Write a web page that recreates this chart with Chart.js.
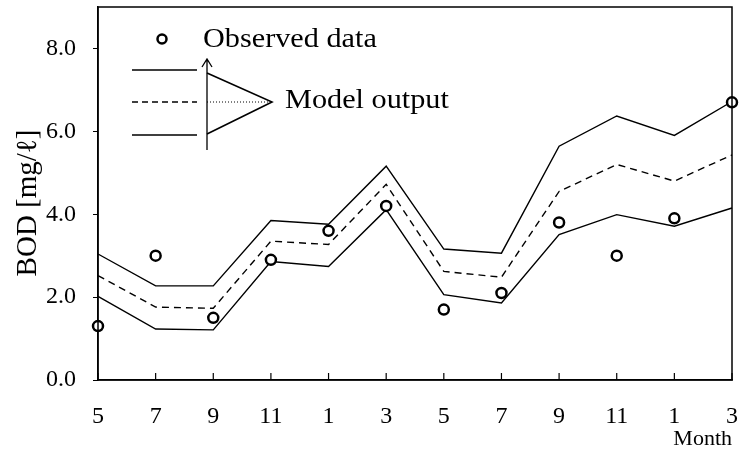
<!DOCTYPE html>
<html>
<head>
<meta charset="utf-8">
<script src="https://cdn.jsdelivr.net/npm/chart.js@4.4.1/dist/chart.umd.min.js"></script>
<style>
  html, body { margin: 0; padding: 0; background: #fff; }
  #wrap { width: 739px; height: 452px; }
</style>
</head>
<body>
<div id="wrap"><canvas id="bod"></canvas></div>
<script>
// BOD observed vs model output
var months = ["5", "7", "9", "11", "1", "3", "5", "7", "9", "11", "1", "3"];
var observed = [1.3, 3.0, 1.5, 2.9, 3.6, 4.2, 1.7, 2.1, 3.8, 3.0, 3.9, 6.7];
var modelUpper = [3.04, 2.27, 2.27, 3.85, 3.76, 5.16, 3.16, 3.06, 5.64, 6.37, 5.9, 6.72];
var modelMean = [2.52, 1.76, 1.73, 3.35, 3.27, 4.72, 2.62, 2.48, 4.55, 5.2, 4.8, 5.43];
var modelLower = [2.02, 1.23, 1.21, 2.86, 2.74, 4.11, 2.06, 1.86, 3.51, 3.99, 3.71, 4.15];
var yTicks = [0, 2, 4, 6, 8];

var serif = "'Liberation Serif', 'DejaVu Serif', serif";

function wideText(c, txt, x, y) {
    c.save();
    c.translate(x, y);
    c.scale(1.12, 1);
    c.fillText(txt, 0, 0);
    c.restore();
}

// frame, inward x ticks, y title and the hand drawn legend
var decor = {
    id: 'decor',
    afterDraw: function (chart) {
        var c = chart.ctx;
        var a = chart.chartArea;
        var x = chart.scales.x;
        c.save();
        c.strokeStyle = '#000';
        c.lineWidth = 1.5;
        c.strokeRect(a.left, a.top, a.right - a.left, a.bottom - a.top);

        c.lineWidth = 1.2;
        for (var i = 0; i < months.length; i++) {
            var px = x.getPixelForTick(i);
            c.beginPath();
            c.moveTo(px, a.bottom);
            c.lineTo(px, a.bottom - 7);
            c.stroke();
        }

        // y axis title (sits a bit below the middle in the original)
        c.fillStyle = '#000';
        c.save();
        c.translate(28, 203);
        c.rotate(-Math.PI / 2);
        c.font = '29px ' + serif;
        c.textAlign = 'center';
        c.textBaseline = 'middle';
        c.fillText('BOD [mg/\u2113]', 0, 0);
        c.restore();

        // legend
        c.fillStyle = '#fff';
        c.lineWidth = 2.5;
        c.beginPath();
        c.arc(162, 39, 4.5, 0, Math.PI * 2);
        c.fill();
        c.stroke();

        c.fillStyle = '#000';
        c.font = '27px ' + serif;
        c.textBaseline = 'middle';
        c.textAlign = 'left';
        wideText(c, 'Observed data', 203, 40);
        wideText(c, 'Model output', 285, 101);

        c.lineWidth = 1.3;
        c.beginPath();
        c.moveTo(132, 70); c.lineTo(197, 70);
        c.moveTo(132, 135); c.lineTo(197, 135);
        c.stroke();
        c.setLineDash([6, 4]);
        c.beginPath();
        c.moveTo(132, 102); c.lineTo(197, 102);
        c.stroke();
        c.setLineDash([]);

        // arrow + bracket
        c.beginPath();
        c.moveTo(207, 150); c.lineTo(207, 59);
        c.moveTo(202, 67); c.lineTo(207, 59); c.lineTo(212, 67);
        c.stroke();
        c.lineWidth = 1.6;
        c.beginPath();
        c.moveTo(207, 73); c.lineTo(272, 102); c.lineTo(207, 134);
        c.stroke();
        c.lineWidth = 1;
        c.setLineDash([1, 2]);
        c.beginPath();
        c.moveTo(207, 102); c.lineTo(272, 102);
        c.stroke();
        c.restore();
    }
};

function noPad(scale) {
    scale.paddingTop = 0;
    scale.paddingBottom = 0;
    scale.paddingLeft = 0;
    scale.paddingRight = 0;
}

var ctx = document.getElementById('bod').getContext('2d');
var chart = new Chart(ctx, {
    type: 'line',
    data: {
        labels: months,
        datasets: [{
            label: 'Observed data',
            data: observed,
            showLine: false,
            pointRadius: 5,
            pointBorderWidth: 2.5,
            pointBorderColor: '#000',
            pointBackgroundColor: '#fff',
            order: 0
        }, {
            label: 'Upper',
            data: modelUpper,
            borderColor: '#000',
            borderWidth: 1.4,
            pointRadius: 0,
            tension: 0,
            order: 1
        }, {
            label: 'Model output',
            data: modelMean,
            borderColor: '#000',
            borderWidth: 1.4,
            borderDash: [7, 5],
            pointRadius: 0,
            tension: 0,
            order: 1
        }, {
            label: 'Lower',
            data: modelLower,
            borderColor: '#000',
            borderWidth: 1.4,
            pointRadius: 0,
            tension: 0,
            order: 1
        }]
    },
    options: {
        responsive: true,
        maintainAspectRatio: false,
        animation: false,
        layout: { autoPadding: false, padding: { top: 7, right: 7, left: 0, bottom: 0 } },
        plugins: {
            legend: { display: false },
            tooltip: { enabled: false }
        },
        scales: {
            x: {
                offset: false,
                grid: { drawOnChartArea: false, drawTicks: false },
                border: { display: true, color: '#000', width: 1.5 },
                ticks: {
                    color: '#000',
                    font: { family: serif, size: 24 },
                    padding: 22,
                    maxRotation: 0,
                    autoSkip: false
                },
                title: {
                    display: true,
                    text: 'Month',
                    align: 'end',
                    color: '#000',
                    font: { family: serif, size: 22 },
                    padding: { top: 0, bottom: 0 }
                },
                afterFit: function (scale) { scale.height = 72; noPad(scale); }
            },
            y: {
                min: 0,
                max: 9,
                grid: { drawOnChartArea: false, drawTicks: true, tickLength: 5, color: '#000' },
                border: { display: true, color: '#000', width: 1.5 },
                afterBuildTicks: function (scale) {
                    scale.ticks = yTicks.map(function (v) { return { value: v }; });
                },
                ticks: {
                    color: '#000',
                    font: { family: serif, size: 24 },
                    padding: 17,
                    callback: function (v) { return v.toFixed(1); }
                },
                afterFit: function (scale) { scale.width = 98; noPad(scale); }
            }
        }
    },
    plugins: [decor]
});
</script>
</body>
</html>
